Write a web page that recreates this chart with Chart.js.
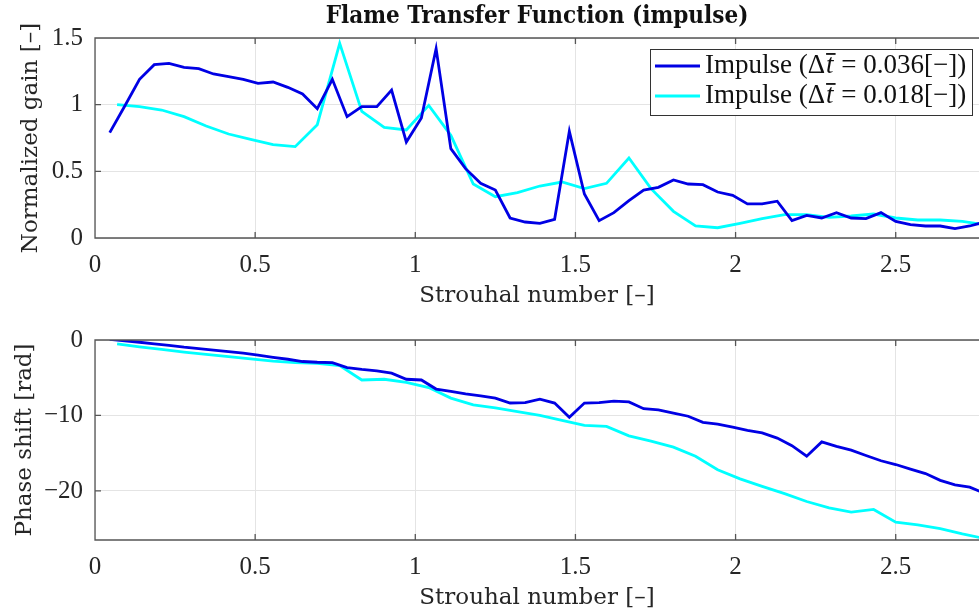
<!DOCTYPE html>
<html>
<head>
<meta charset="utf-8">
<title>Flame Transfer Function (impulse)</title>
<script src="https://cdn.jsdelivr.net/npm/chart.js@4.4.1/dist/chart.umd.min.js"></script>
<style>
  html, body { margin: 0; padding: 0; background: #fff; }
  #wrap { position: relative; width: 979px; height: 614px; overflow: hidden; }
  canvas { position: absolute; left: 0; }
</style>
</head>
<body>
<div id="wrap">
  <canvas id="gainChart" width="979" height="310" style="top:0"></canvas>
  <canvas id="phaseChart" width="979" height="304" style="top:310px"></canvas>
</div>
<script>
// Strouhal numbers of the two impulse runs
const strouhalCoarse = [
  0.046, 0.093, 0.139, 0.185, 0.231, 0.278, 0.324, 0.370, 0.417, 0.463,
  0.509, 0.556, 0.602, 0.648, 0.694, 0.741, 0.787, 0.833, 0.880, 0.926,
  0.972, 1.019, 1.065, 1.111, 1.157, 1.204, 1.250, 1.296, 1.343, 1.389,
  1.435, 1.481, 1.528, 1.574, 1.620, 1.667, 1.713, 1.759, 1.806, 1.852,
  1.898, 1.944, 1.991, 2.037, 2.083, 2.130, 2.176, 2.222, 2.269, 2.315,
  2.361, 2.407, 2.454, 2.500, 2.546, 2.593, 2.639, 2.685, 2.731, 2.778
];
const strouhalFine = [
  0.069, 0.139, 0.208, 0.278, 0.347, 0.417, 0.486, 0.556, 0.625, 0.694,
  0.764, 0.833, 0.903, 0.972, 1.042, 1.111, 1.181, 1.250, 1.319, 1.389,
  1.458, 1.528, 1.597, 1.667, 1.736, 1.806, 1.875, 1.944, 2.014, 2.083,
  2.153, 2.222, 2.292, 2.361, 2.431, 2.500, 2.569, 2.639, 2.708, 2.778
];

// normalized gain [-]
const gainCoarse = [
  0.79, 0.99, 1.19, 1.30, 1.31, 1.28, 1.27, 1.23, 1.21, 1.19,
  1.16, 1.17, 1.13, 1.08, 0.97, 1.19, 0.91, 0.985, 0.985, 1.11,
  0.72, 0.90, 1.42, 0.67, 0.52, 0.41, 0.36, 0.15, 0.12, 0.11,
  0.14, 0.80, 0.33, 0.13, 0.19, 0.28, 0.36, 0.38, 0.435, 0.405,
  0.40, 0.345, 0.32, 0.256, 0.256, 0.276, 0.13, 0.17, 0.15, 0.19,
  0.15, 0.145, 0.19, 0.125, 0.10, 0.09, 0.09, 0.07, 0.09, 0.12
];
const gainFine = [
  1.0, 0.985, 0.96, 0.91, 0.84, 0.78, 0.74, 0.70, 0.685, 0.85,
  1.46, 0.95, 0.83, 0.81, 0.995, 0.77, 0.405, 0.31, 0.34, 0.39,
  0.42, 0.37, 0.41, 0.60, 0.37, 0.20, 0.09, 0.077, 0.11, 0.145,
  0.175, 0.175, 0.155, 0.165, 0.18, 0.15, 0.135, 0.135, 0.125, 0.10
];

// phase shift [rad]
const phaseCoarse = [
  0.1, -0.1, -0.3, -0.5, -0.7, -0.95, -1.15, -1.35, -1.55, -1.75,
  -2.0, -2.3, -2.55, -2.85, -2.95, -3.0, -3.65, -3.9, -4.1, -4.4,
  -5.2, -5.3, -6.5, -6.8, -7.15, -7.4, -7.7, -8.35, -8.3, -7.85,
  -8.35, -10.25, -8.35, -8.3, -8.1, -8.2, -9.1, -9.25, -9.7, -10.1,
  -10.9, -11.15, -11.55, -11.98, -12.3, -13.0, -14.0, -15.4, -13.5, -14.1,
  -14.6, -15.3, -16.0, -16.5, -17.1, -17.7, -18.6, -19.2, -19.5, -20.3
];
const phaseFine = [
  -0.5, -0.9, -1.25, -1.6, -1.9, -2.2, -2.5, -2.8, -3.0, -3.1,
  -3.4, -5.3, -5.2, -5.6, -6.3, -7.7, -8.6, -9.0, -9.5, -10.0,
  -10.65, -11.3, -11.45, -12.7, -13.4, -14.2, -15.4, -17.2, -18.4, -19.4,
  -20.35, -21.4, -22.25, -22.8, -22.45, -24.15, -24.5, -25.0, -25.7, -26.3
];

const timeSteps = ['0.036', '0.018'];
const strouhalTicks = [0, 0.5, 1, 1.5, 2, 2.5];
const gainTicks = [0, 0.5, 1, 1.5];
const phaseTicks = [-20, -10, 0];

const blue = 'rgb(0,0,228)';
const cyan = '#00ffff';
const textColor = '#262626';
const serif = "'Liberation Serif', serif";
const labelFont = "'DejaVu Serif', serif";

const toPoints = (xs, ys) => xs.map((x, i) => ({ x: x, y: ys[i] }));
const fmt = v => String(v).replace('-', '\u2212');

// MATLAB-like box with inward ticks
const axesFrame = {
  id: 'axesFrame',
  afterDatasetsDraw(chart) {
    const { ctx, chartArea: a, scales } = chart;
    ctx.save();
    ctx.strokeStyle = '#555';
    ctx.lineWidth = 1.3;
    ctx.beginPath();
    ctx.moveTo(a.right + 5, a.top);
    ctx.lineTo(a.left, a.top);
    ctx.lineTo(a.left, a.bottom);
    ctx.lineTo(a.right + 5, a.bottom);
    scales.x.ticks.forEach(t => {
      const px = scales.x.getPixelForValue(t.value);
      ctx.moveTo(px, a.bottom); ctx.lineTo(px, a.bottom - 6);
      ctx.moveTo(px, a.top); ctx.lineTo(px, a.top + 6);
    });
    scales.y.ticks.forEach(t => {
      const py = scales.y.getPixelForValue(t.value);
      ctx.moveTo(a.left, py); ctx.lineTo(a.left + 6, py);
    });
    ctx.stroke();
    ctx.restore();
  }
};

// legend drawn inside the top axes, with the t-bar math label
const legendBox = {
  id: 'legendBox',
  afterDraw(chart) {
    const { ctx, chartArea: a } = chart;
    const fs = 27;
    const w = 322, h = 66;
    const x0 = a.right - 7 - w, y0 = a.top + 11;
    ctx.save();
    ctx.fillStyle = '#fff';
    ctx.fillRect(x0, y0, w, h);
    ctx.strokeStyle = '#333';
    ctx.lineWidth = 1;
    ctx.strokeRect(x0 + 0.5, y0 + 0.5, w, h);
    chart.data.datasets.forEach((ds, i) => {
      const cy = y0 + 17 + i * 30;
      ctx.strokeStyle = ds.borderColor;
      ctx.lineWidth = 2.8;
      ctx.beginPath();
      ctx.moveTo(x0 + 5, cy);
      ctx.lineTo(x0 + 50, cy);
      ctx.stroke();
      ctx.fillStyle = '#111';
      ctx.textBaseline = 'middle';
      let x = x0 + 55;
      ctx.font = fs + 'px ' + serif;
      ctx.fillText('Impulse (\u0394', x, cy);
      x += ctx.measureText('Impulse (\u0394').width;
      ctx.font = 'italic ' + fs + 'px ' + serif;
      ctx.fillText('t', x + 1, cy);
      const tw = ctx.measureText('t').width;
      ctx.fillRect(x + 1, cy - fs * 0.48, tw + 2, 1.8);
      x += tw + 2;
      ctx.font = fs + 'px ' + serif;
      ctx.fillText(' = ' + timeSteps[i] + '[\u2212])', x, cy);
    });
    ctx.restore();
  }
};

function xScale(titlePad, axisHeight) {
  return {
    type: 'linear',
    min: 0,
    max: 2.76,
    afterBuildTicks: s => { s.ticks = strouhalTicks.map(v => ({ value: v })); },
    afterFit: s => { s.height = axisHeight; },
    grid: { color: '#e4e4e4', drawTicks: false },
    border: { display: false },
    ticks: { padding: 12, color: textColor, font: { family: serif, size: 25 }, callback: fmt, maxRotation: 0 },
    title: {
      display: true, text: 'Strouhal number [\u2013]', color: textColor,
      font: { family: labelFont, size: 23 }, padding: { top: 0, bottom: titlePad }
    }
  };
}

function yScale(min, max, tickList, text, titlePad) {
  return {
    min: min,
    max: max,
    afterBuildTicks: s => { s.ticks = tickList.map(v => ({ value: v })); },
    afterFit: s => { s.width = 95; },
    grid: { color: '#e4e4e4', drawTicks: false },
    border: { display: false },
    ticks: { padding: 12, color: textColor, font: { family: serif, size: 25 }, callback: fmt },
    title: {
      display: true, text: text, color: textColor,
      font: { family: labelFont, size: 23 }, padding: { top: titlePad, bottom: 0 }
    }
  };
}

const lineDefaults = { borderWidth: 2.8, pointRadius: 0, tension: 0, fill: false };

new Chart(document.getElementById('gainChart'), {
  type: 'line',
  data: {
    datasets: [
      Object.assign({ label: 'Impulse (\u0394t = 0.036[\u2212])', data: toPoints(strouhalCoarse, gainCoarse), borderColor: blue }, lineDefaults),
      Object.assign({ label: 'Impulse (\u0394t = 0.018[\u2212])', data: toPoints(strouhalFine, gainFine), borderColor: cyan }, lineDefaults)
    ]
  },
  options: {
    responsive: false,
    animation: false,
    layout: { padding: 0 },
    plugins: {
      legend: { display: false },
      tooltip: { enabled: false },
      title: {
        display: true,
        fullSize: false,
        text: 'Flame Transfer Function (impulse)',
        color: '#111',
        font: { family: "'DejaVu Serif Condensed', 'DejaVu Serif', serif", size: 24, weight: 'bold' },
        padding: { top: 2, bottom: 7.2 }
      }
    },
    scales: {
      x: xScale(0, 72),
      y: yScale(0, 1.5, gainTicks, 'Normalized gain [\u2013]', 17)
    }
  },
  plugins: [axesFrame, legendBox]
});

new Chart(document.getElementById('phaseChart'), {
  type: 'line',
  data: {
    datasets: [
      Object.assign({ label: 'Impulse (\u0394t = 0.036[\u2212])', data: toPoints(strouhalCoarse, phaseCoarse), borderColor: blue }, lineDefaults),
      Object.assign({ label: 'Impulse (\u0394t = 0.018[\u2212])', data: toPoints(strouhalFine, phaseFine), borderColor: cyan }, lineDefaults)
    ]
  },
  options: {
    responsive: false,
    animation: false,
    layout: { padding: { top: 30, left: 0, right: 0, bottom: 0 } },
    plugins: {
      legend: { display: false },
      tooltip: { enabled: false }
    },
    scales: {
      x: xScale(2, 74),
      y: yScale(-26.5, 0, phaseTicks, 'Phase shift [rad]', 11)
    }
  },
  plugins: [axesFrame]
});
</script>
</body>
</html>
